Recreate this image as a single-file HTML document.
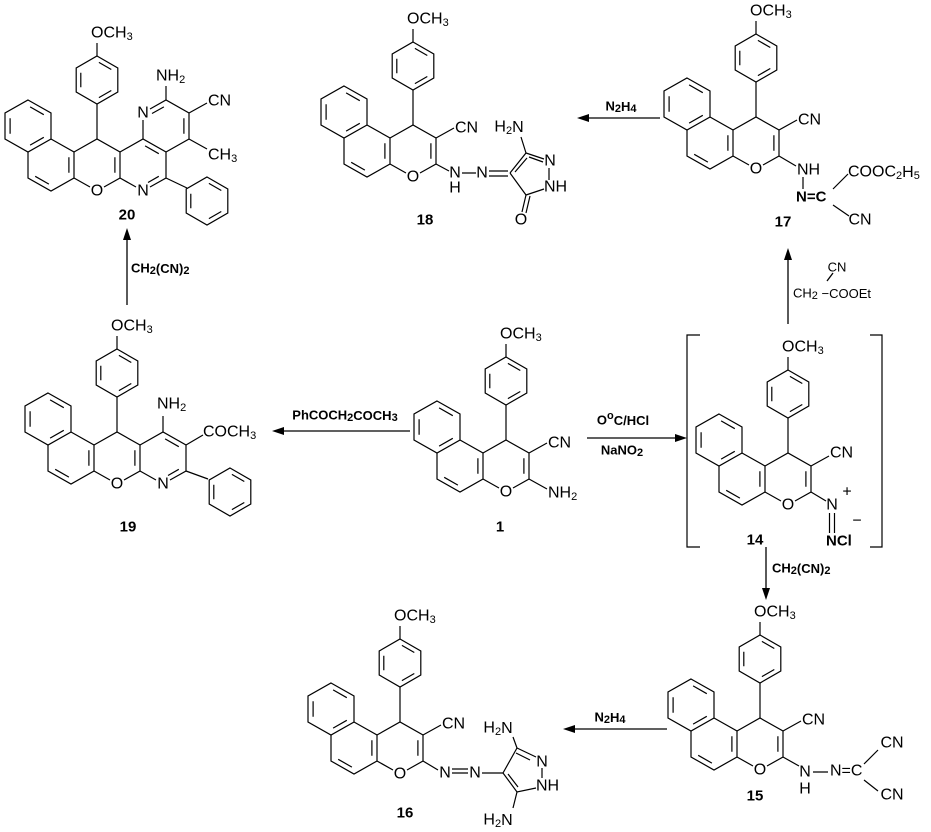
<!DOCTYPE html>
<html><head><meta charset="utf-8"><style>
html,body{margin:0;padding:0;background:#fff}
svg{display:block}
text{font-family:"Liberation Sans",Arial,sans-serif;fill:#000}
.a{font-size:16px}
.b{font-size:13px;font-weight:bold}
.n{font-size:15px;font-weight:bold}
.s{font-size:11px}
</style></head><body>
<svg width="931" height="832" viewBox="0 0 931 832" xmlns="http://www.w3.org/2000/svg">
<defs>
<g id="ph" fill="none" stroke="#000" stroke-width="1.2">
<polygon points="0,-24 20.8,-12 20.8,12 0,24 -20.8,12 -20.8,-12"/>
<path d="M1.9,-17.6L14.3,-10.5M14.3,10.5L1.9,17.6M-16.2,7.2L-16.2,-7.2"/>
</g>
<g id="core" fill="none" stroke="#000" stroke-width="1.2">
<polygon points="-69,-39 -46,-26 -46,0 -69,13 -92,0 -92,-26"/>
<path d="M-46,0L-23,13L-23,39L-46,52L-69,39L-69,13"/>
<path d="M-23,13L0,0L23,13L23,39L7,48M-23,39L-7,48"/>
<path d="M-66.9,-32.1L-53.2,-24.3M-53.2,-1.7L-66.9,6.1M-86.9,-5.3L-86.9,-20.7M-28.1,18.3L-28.1,33.7M-48.1,45.1L-61.8,37.3M17.9,18.3L17.9,33.7"/>
<path d="M0,0L0,-35M0,-83L0,-96"/>
<use href="#ph" transform="translate(0,-59)"/>
</g>
<g id="pyA" fill="none" stroke="#000" stroke-width="1.2">
<path d="M23,13L46,0L69,13L69,39L53,48M39,48L23,39"/>
<path d="M48.1,6.9L61.8,14.7M61.8,37.3L51,43.5"/>
</g>
</defs>

<!-- Compound 20 -->
<g transform="translate(97,139)">
<use href="#core"/><use href="#pyA"/>
<g fill="none" stroke="#000" stroke-width="1.2">
<path d="M46,0L46,-19M53,-30L69,-39L92,-26L92,0L69,13"/>
<path d="M55,-25.5L66.9,-32.1M86.9,-20.7L86.9,-5.3"/>
<path d="M69,-39L69,-53M92,-26L110,-36M92,0L110,10M69,39L90,49"/>
</g>
<use href="#ph" transform="translate(110,62)"/>
<text class="a" x="-6" y="-106" dominant-baseline="central">OCH<tspan class="s" dy="4">3</tspan></text>
<text class="a" x="0" y="52" text-anchor="middle" dominant-baseline="central">O</text>
<text class="a" x="46" y="52" text-anchor="middle" dominant-baseline="central">N</text>
<text class="a" x="46" y="-26" text-anchor="middle" dominant-baseline="central">N</text>
<text class="a" x="59" y="-63" dominant-baseline="central">NH<tspan class="s" dy="4">2</tspan></text>
<text class="a" x="111" y="-38" dominant-baseline="central">CN</text>
<text class="a" x="111" y="16" dominant-baseline="central">CH<tspan class="s" dy="4">3</tspan></text>
<text class="n" x="30" y="76" text-anchor="middle" dominant-baseline="central">20</text>
</g>

<!-- Compound 19 -->
<g transform="translate(117,432)">
<use href="#core"/><use href="#pyA"/>
<g fill="none" stroke="#000" stroke-width="1.2">
<path d="M46,0L46,-16M69,13L86,3M69,39L91,47"/>
</g>
<use href="#ph" transform="translate(113,60)"/>
<text class="a" x="-6" y="-106" dominant-baseline="central">OCH<tspan class="s" dy="4">3</tspan></text>
<text class="a" x="0" y="52" text-anchor="middle" dominant-baseline="central">O</text>
<text class="a" x="46" y="52" text-anchor="middle" dominant-baseline="central">N</text>
<text class="a" x="40" y="-28" dominant-baseline="central">NH<tspan class="s" dy="4">2</tspan></text>
<text class="a" x="86" y="0" dominant-baseline="central">COCH<tspan class="s" dy="4">3</tspan></text>
<text class="n" x="11" y="95" text-anchor="middle" dominant-baseline="central">19</text>
</g>

<!-- Compound 1 -->
<g transform="translate(506,440)">
<use href="#core"/>
<path d="M23,13L41,3M23,39L41,49" stroke="#000" stroke-width="1.2" fill="none"/>
<text class="a" x="-6" y="-106" dominant-baseline="central">OCH<tspan class="s" dy="4">3</tspan></text>
<text class="a" x="0" y="52" text-anchor="middle" dominant-baseline="central">O</text>
<text class="a" x="42" y="3" dominant-baseline="central">CN</text>
<text class="a" x="42" y="53" dominant-baseline="central">NH<tspan class="s" dy="4">2</tspan></text>
<text class="n" x="-6" y="87" text-anchor="middle" dominant-baseline="central">1</text>
</g>

<!-- Compound 14 -->
<path d="M700,335H687V547H700M870,335H882V547H870" stroke="#000" stroke-width="1.2" fill="none"/>
<g transform="translate(788,453)">
<use href="#core"/>
<path d="M23,13L41,3M23,39L38,48M41.5,60L41.5,80M46.5,60L46.5,80" stroke="#000" stroke-width="1.2" fill="none"/>
<text class="a" x="-6" y="-106" dominant-baseline="central">OCH<tspan class="s" dy="4">3</tspan></text>
<text class="a" x="0" y="52" text-anchor="middle" dominant-baseline="central">O</text>
<text class="a" x="42" y="0" dominant-baseline="central">CN</text>
<text class="a" x="44" y="52" text-anchor="middle" dominant-baseline="central">N</text>
<text class="a" x="59" y="39" text-anchor="middle" dominant-baseline="central">+</text>
<text class="a" x="69" y="68" text-anchor="middle" dominant-baseline="central">−</text>
<text class="n" x="38" y="88" dominant-baseline="central">NCl</text>
<text class="n" x="-33" y="87" text-anchor="middle" dominant-baseline="central">14</text>
</g>

<!-- Compound 18 -->
<g transform="translate(413,125)">
<use href="#core"/>
<g fill="none" stroke="#000" stroke-width="1.2">
<path d="M23,13L41,3M23,39L36,46M49,48L63,48M76,46L95,46M76,51L95,51"/>
<path d="M97,48L113,28L131,34M136,43L136,55M131,64L113,70L97,48"/>
<path d="M102,47L114,33M116,32L130,37"/>
<path d="M113,70L109,87M117,71L113,88M113,28L108,12"/>
</g>
<text class="a" x="-6" y="-106" dominant-baseline="central">OCH<tspan class="s" dy="4">3</tspan></text>
<text class="a" x="0" y="52" text-anchor="middle" dominant-baseline="central">O</text>
<text class="a" x="42" y="3" dominant-baseline="central">CN</text>
<text class="a" x="42" y="48" text-anchor="middle" dominant-baseline="central">N</text>
<text class="a" x="42" y="63" text-anchor="middle" dominant-baseline="central">H</text>
<text class="a" x="69" y="48" text-anchor="middle" dominant-baseline="central">N</text>
<text class="a" x="137" y="36" text-anchor="middle" dominant-baseline="central">N</text>
<text class="a" x="131" y="62" dominant-baseline="central">NH</text>
<text class="a" x="108" y="95" text-anchor="middle" dominant-baseline="central">O</text>
<text class="a" x="96" y="2" text-anchor="middle" dominant-baseline="central">H<tspan class="s" dy="4">2</tspan><tspan dy="-4">N</tspan></text>
<text class="n" x="12" y="95" text-anchor="middle" dominant-baseline="central">18</text>
</g>

<!-- Compound 17 -->
<g transform="translate(756,117)">
<use href="#core"/>
<g fill="none" stroke="#000" stroke-width="1.2">
<path d="M23,13L41,3M23,39L40,49M47,60L47,72M77,72L92,57M77,88L93,99"/>
</g>
<text class="a" x="-6" y="-106" dominant-baseline="central">OCH<tspan class="s" dy="4">3</tspan></text>
<text class="a" x="0" y="52" text-anchor="middle" dominant-baseline="central">O</text>
<text class="a" x="42" y="3" dominant-baseline="central">CN</text>
<text class="a" x="41" y="53" dominant-baseline="central">NH</text>
<text class="n" x="40" y="80" dominant-baseline="central">N=C</text>
<text class="a" x="92" y="55" dominant-baseline="central">COOC<tspan class="s" dy="4">2</tspan><tspan dy="-4">H</tspan><tspan class="s" dy="4">5</tspan></text>
<text class="a" x="104" y="103" text-anchor="middle" dominant-baseline="central">CN</text>
<text class="n" x="27" y="105" text-anchor="middle" dominant-baseline="central">17</text>
</g>

<!-- Compound 15 -->
<g transform="translate(760,718)">
<use href="#core"/>
<g fill="none" stroke="#000" stroke-width="1.2">
<path d="M23,13L41,3M23,39L39,48M53,54L68,54M104,46L118,32M104,62L118,73"/>
</g>
<text class="a" x="-6" y="-106" dominant-baseline="central">OCH<tspan class="s" dy="4">3</tspan></text>
<text class="a" x="0" y="52" text-anchor="middle" dominant-baseline="central">O</text>
<text class="a" x="42" y="2" dominant-baseline="central">CN</text>
<text class="a" x="45" y="54" text-anchor="middle" dominant-baseline="central">N</text>
<text class="a" x="45" y="71" text-anchor="middle" dominant-baseline="central">H</text>
<text class="a" x="70" y="53" dominant-baseline="central">N=C</text>
<text class="a" x="132" y="25" text-anchor="middle" dominant-baseline="central">CN</text>
<text class="a" x="132" y="77" text-anchor="middle" dominant-baseline="central">CN</text>
<text class="n" x="-5" y="78" text-anchor="middle" dominant-baseline="central">15</text>
</g>

<!-- Compound 16 -->
<g transform="translate(400,722)">
<use href="#core"/>
<g fill="none" stroke="#000" stroke-width="1.2">
<path d="M23,13L41,3M23,39L38,48M52,47L68,47M52,51L68,51M82,51L103,51"/>
<path d="M103,51L117,26L136,35M142,46L142,56M136,66L117,70L103,51"/>
<path d="M116,31L130,38M108,52L118,65"/>
<path d="M117,26L113,15M117,70L113,86"/>
</g>
<text class="a" x="-6" y="-106" dominant-baseline="central">OCH<tspan class="s" dy="4">3</tspan></text>
<text class="a" x="0" y="52" text-anchor="middle" dominant-baseline="central">O</text>
<text class="a" x="42" y="2" dominant-baseline="central">CN</text>
<text class="a" x="45" y="51" text-anchor="middle" dominant-baseline="central">N</text>
<text class="a" x="75" y="51" text-anchor="middle" dominant-baseline="central">N</text>
<text class="a" x="142" y="40" text-anchor="middle" dominant-baseline="central">N</text>
<text class="a" x="136" y="64" dominant-baseline="central">NH</text>
<text class="a" x="98" y="6" text-anchor="middle" dominant-baseline="central">H<tspan class="s" dy="4">2</tspan><tspan dy="-4">N</tspan></text>
<text class="a" x="98" y="98" text-anchor="middle" dominant-baseline="central">H<tspan class="s" dy="4">2</tspan><tspan dy="-4">N</tspan></text>
<text class="n" x="5" y="91" text-anchor="middle" dominant-baseline="central">16</text>
</g>

<!-- Arrows -->
<g stroke="#000" stroke-width="1.3" fill="none">
<path d="M585,118H660"/>
<path d="M280,431H410"/>
<path d="M127,236V305"/>
<path d="M587,438H678"/>
<path d="M788,256V324"/>
<path d="M766,547V592"/>
<path d="M571,729H667"/>
<path d="M827,281L833,273"/>
</g>
<g fill="#000">
<polygon points="577,118 589,114 589,122"/>
<polygon points="272,431 284,427 284,435"/>
<polygon points="127,228 123,240 131,240"/>
<polygon points="687,438 675,434 675,442"/>
<polygon points="788,248 784,260 792,260"/>
<polygon points="766,600 762,588 770,588"/>
<polygon points="563,729 575,725 575,733"/>
</g>
<text class="b" x="621" y="106" text-anchor="middle" dominant-baseline="central">N<tspan class="s" dy="3">2</tspan><tspan dy="-3">H</tspan><tspan class="s" dy="3">4</tspan></text>
<text class="b" x="345" y="415" text-anchor="middle" dominant-baseline="central">PhCOCH<tspan class="s" dy="3">2</tspan><tspan dy="-3">COCH</tspan><tspan class="s" dy="3">3</tspan></text>
<text class="b" x="131" y="268" dominant-baseline="central">CH<tspan class="s" dy="3">2</tspan><tspan dy="-3">(CN)</tspan><tspan class="s" dy="3">2</tspan></text>
<text class="b" x="623" y="420" text-anchor="middle" dominant-baseline="central">O<tspan class="s" dy="-4">o</tspan><tspan dy="4">C/HCl</tspan></text>
<text class="b" x="622" y="450" text-anchor="middle" dominant-baseline="central">NaNO<tspan class="s" dy="3">2</tspan></text>
<text class="b" x="772" y="568" dominant-baseline="central">CH<tspan class="s" dy="3">2</tspan><tspan dy="-3">(CN)</tspan><tspan class="s" dy="3">2</tspan></text>
<text class="b" x="610" y="717" text-anchor="middle" dominant-baseline="central">N<tspan class="s" dy="3">2</tspan><tspan dy="-3">H</tspan><tspan class="s" dy="3">4</tspan></text>
<text style="font-size:13px" x="837" y="267" text-anchor="middle" dominant-baseline="central">CN</text>
<text style="font-size:13px" x="793" y="293" dominant-baseline="central">CH<tspan class="s" dy="3">2</tspan><tspan dy="-3"> −COOEt</tspan></text>
</svg>
</body></html>
